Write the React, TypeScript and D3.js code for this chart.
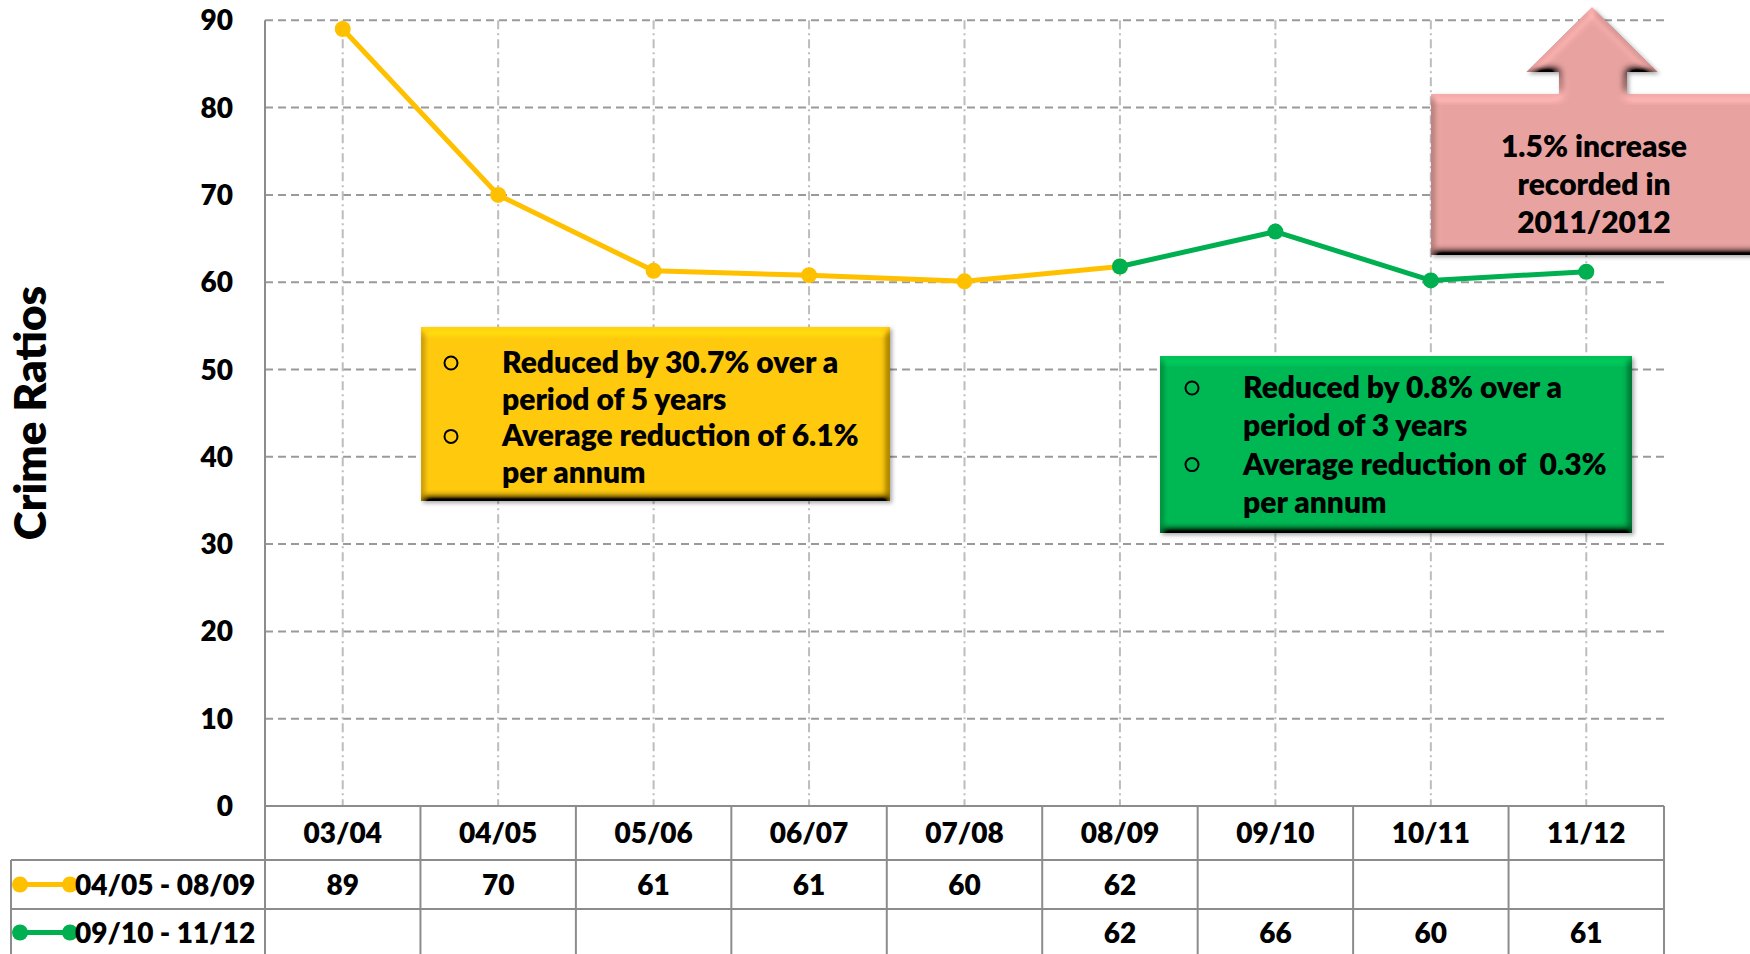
import { line as d3Line, scaleBand, scaleLinear } from "d3"

const categories = ["03/04", "04/05", "05/06", "06/07", "07/08", "08/09", "09/10", "10/11", "11/12"]
const earlyCategories = ["03/04", "04/05", "05/06", "06/07", "07/08", "08/09"]
const earlyValues = [89.0, 70.0, 61.3, 60.8, 60.1, 61.8]
const earlyLabels = ["89", "70", "61", "61", "60", "62"]
const lateCategories = ["08/09", "09/10", "10/11", "11/12"]
const lateValues = [61.8, 65.8, 60.2, 61.2]
const lateLabels = ["62", "66", "60", "61"]
const yTickValues = [0, 10, 20, 30, 40, 50, 60, 70, 80, 90]
const earlyName = "04/05 - 08/09"
const lateName = "09/10 - 11/12"
const yTitle = "Crime Ratios"
const yellowNotes = ["Reduced by 30.7% over a", "period of 5 years", "Average reduction of 6.1%", "per annum"]
const greenNotes = ["Reduced by 0.8% over a", "period of 3 years", "Average reduction of  0.3%", "per annum"]
const pinkNote = ["1.5% increase", "recorded in", "2011/2012"]

const W = 1750
const H = 954
const FONT = "Lato, 'Open Sans', sans-serif"
const WEIGHT = 800
const YELLOW = "#FFC000"
const GREEN = "#00B050"
const GRID = "#9a9a9a"
const BORDER = "#8c8c8c"

interface Point {
  cat: string
  value: number
}

export default function App() {
  const plotLeft = 265
  const plotRight = 1664
  const plotTop = 20.3
  const plotBottom = 806
  const headerBottom = 860
  const row1Bottom = 909
  const row2Bottom = 960
  const tableLeft = 11

  const x = scaleBand<string>().domain(categories).range([plotLeft, plotRight])
  const y = scaleLinear().domain([0, 90]).range([plotBottom, plotTop])
  const cx = (c: string) => (x(c) ?? 0) + x.bandwidth() / 2

  const early: Point[] = earlyCategories.map((cat, i) => ({ cat, value: earlyValues[i] }))
  const late: Point[] = lateCategories.map((cat, i) => ({ cat, value: lateValues[i] }))
  const lineGen = d3Line<Point>().x((d) => cx(d.cat)).y((d) => y(d.value))

  const series = [
    { key: "early", color: YELLOW, points: early, labels: earlyLabels, cats: earlyCategories, name: earlyName, rowMid: (headerBottom + row1Bottom) / 2 },
    { key: "late", color: GREEN, points: late, labels: lateLabels, cats: lateCategories, name: lateName, rowMid: (row1Bottom + 954) / 2 + 1 },
  ]

  // pink up-arrow callout outline
  const pinkPath = [
    [1431, 94], [1559, 94], [1559, 72], [1526, 72], [1592, 7], [1658, 72], [1627, 72], [1627, 94], [1765, 94], [1765, 255], [1431, 255],
  ].map((p) => p.join(",")).join(" ")

  return (
    <div style={{ position: "fixed", left: 0, top: 0, width: W, height: H, background: "#fff" }}>
      <svg width={W} height={H} viewBox={`0 0 ${W} ${H}`} style={{ display: "block" }} fontFamily={FONT} fontWeight={WEIGHT}>
        <defs>
          <filter id="bevel" x="-5%" y="-5%" width="110%" height="110%">
            <feGaussianBlur in="SourceAlpha" stdDeviation="4" result="blur" />
            <feDiffuseLighting in="blur" surfaceScale="9" diffuseConstant="1" lightingColor="#ffffff" result="light">
              <feDistantLight azimuth="260" elevation="55" />
            </feDiffuseLighting>
            <feComposite in="SourceGraphic" in2="light" operator="arithmetic" k1="1.22" k2="0" k3="0" k4="0" result="lit" />
            <feComposite in="lit" in2="SourceAlpha" operator="in" result="shape" />
            <feDropShadow dx="2" dy="2" stdDeviation="2" floodColor="#000" floodOpacity="0.35" />
          </filter>
        </defs>

        {/* horizontal gridlines */}
        {yTickValues.filter((t) => t > 0).map((t) => (
          <line key={`h${t}`} x1={plotLeft} x2={plotRight} y1={y(t)} y2={y(t)} stroke={GRID} strokeWidth={2} strokeDasharray="8 5" />
        ))}
        {/* vertical gridlines */}
        {categories.map((c) => (
          <line key={`v${c}`} x1={cx(c)} x2={cx(c)} y1={plotTop} y2={plotBottom} stroke="#bdbdbd" strokeWidth={2} strokeDasharray="9 4 2 4" />
        ))}
        {/* axis */}
        <line x1={plotLeft} x2={plotLeft} y1={plotTop} y2={plotBottom} stroke={BORDER} strokeWidth={2} />

        {yTickValues.map((t) => (
          <text key={`yt${t}`} x={233} y={y(t)} dy="0.36em" textAnchor="end" fontSize={28} fill="#000">{t}</text>
        ))}

        <text transform={`translate(46,${413}) rotate(-90)`} textAnchor="middle" fontSize={44} fill="#000">{yTitle}</text>

        {/* data table */}
        <g stroke={BORDER} strokeWidth={2}>
          <line x1={plotLeft} x2={plotRight} y1={plotBottom} y2={plotBottom} />
          <line x1={plotLeft} x2={plotRight} y1={headerBottom} y2={headerBottom} />
          <line x1={tableLeft} x2={plotLeft} y1={headerBottom} y2={headerBottom} />
          <line x1={tableLeft} x2={plotRight} y1={row1Bottom} y2={row1Bottom} />
          <line x1={tableLeft} x2={tableLeft} y1={headerBottom} y2={row2Bottom} />
          {categories.map((c) => (
            <line key={`tc${c}`} x1={x(c)} x2={x(c)} y1={plotBottom} y2={row2Bottom} />
          ))}
          <line x1={plotRight} x2={plotRight} y1={plotBottom} y2={row2Bottom} />
        </g>
        {categories.map((c) => (
          <text key={`xl${c}`} x={cx(c)} y={(plotBottom + headerBottom) / 2} dy="0.36em" textAnchor="middle" fontSize={28} fill="#000">{c}</text>
        ))}
        {series.map((s) => (
          <g key={`row${s.key}`}>
            <line x1={20} x2={70} y1={s.rowMid} y2={s.rowMid} stroke={s.color} strokeWidth={5} />
            <circle cx={20} cy={s.rowMid} r={8} fill={s.color} />
            <circle cx={70} cy={s.rowMid} r={8} fill={s.color} />
            <text x={75} y={s.rowMid} dy="0.36em" fontSize={28} fill="#000">{s.name}</text>
            {s.cats.map((c, i) => (
              <text key={c} x={cx(c)} y={s.rowMid} dy="0.36em" textAnchor="middle" fontSize={28} fill="#000">{s.labels[i]}</text>
            ))}
          </g>
        ))}

        {/* series */}
        {series.map((s) => (
          <g key={s.key}>
            <path d={lineGen(s.points) ?? ""} fill="none" stroke={s.color} strokeWidth={5} strokeLinejoin="round" />
            {s.points.map((p) => (
              <circle key={p.cat} cx={cx(p.cat)} cy={y(p.value)} r={8} fill={s.color} />
            ))}
          </g>
        ))}

        {/* yellow note */}
        <rect x={421} y={327} width={469} height={174} fill="#FFC90A" filter="url(#bevel)" />
        {yellowNotes.map((t, i) => (
          <text key={`yn${i}`} x={502} y={373 + i * 36.7} fontSize={30} fill="#000">{t}</text>
        ))}
        {[0, 2].map((i) => (
          <circle key={`yb${i}`} cx={451} cy={373 + i * 36.7 - 10} r={6.5} fill="none" stroke="#000" strokeWidth={2} />
        ))}

        {/* green note */}
        <rect x={1160} y={356} width={472} height={177} fill="#00B853" filter="url(#bevel)" />
        {greenNotes.map((t, i) => (
          <text key={`gn${i}`} x={1243} y={398 + i * 38.3} fontSize={30} fill="#000" style={{ whiteSpace: "pre" }}>{t}</text>
        ))}
        {[0, 2].map((i) => (
          <circle key={`gb${i}`} cx={1192} cy={398 + i * 38.3 - 10} r={6.5} fill="none" stroke="#000" strokeWidth={2} />
        ))}

        {/* pink callout */}
        <polygon points={pinkPath} fill="#E8A3A1" filter="url(#bevel)" />
        {pinkNote.map((t, i) => (
          <text key={`pn${i}`} x={1594} y={157 + i * 38} textAnchor="middle" fontSize={30} fill="#000">{t}</text>
        ))}
      </svg>
    </div>
  )
}
